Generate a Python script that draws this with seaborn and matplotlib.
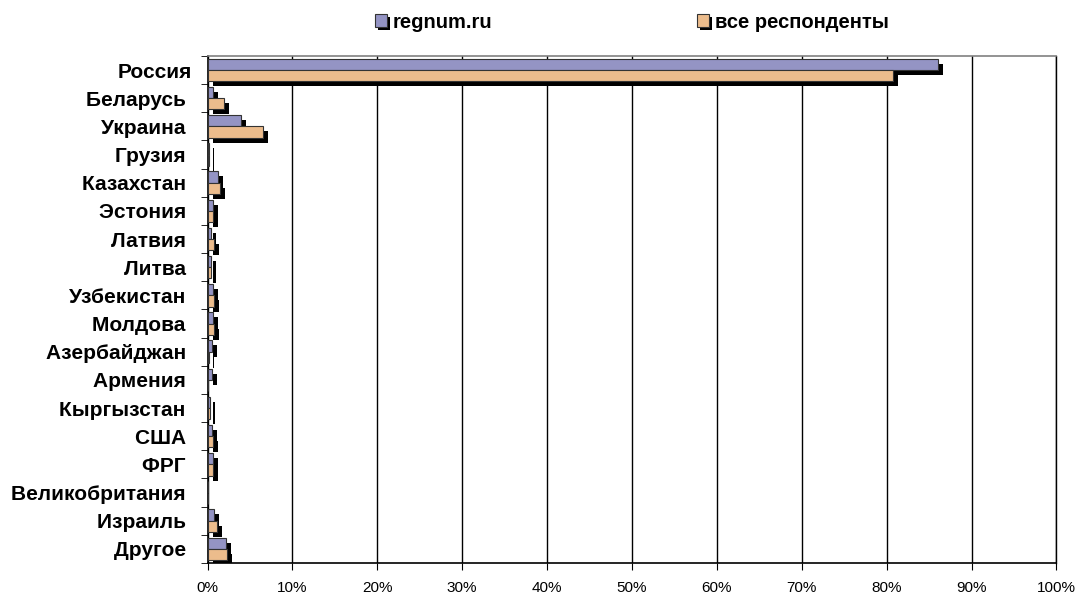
import matplotlib
matplotlib.use("Agg")
import matplotlib.pyplot as plt
import matplotlib.patheffects as pe
from matplotlib.ticker import FixedLocator, PercentFormatter
import seaborn as sns
import pandas as pd
import numpy as np

categories = ["Россия", "Беларусь", "Украина", "Грузия", "Казахстан", "Эстония",
              "Латвия", "Литва", "Узбекистан", "Молдова", "Азербайджан", "Армения",
              "Кыргызстан", "США", "ФРГ", "Великобритания", "Израиль", "Другое"]
regnum = [86.0, 0.7, 3.9, 0.2, 1.2, 0.7, 0.4, 0.4, 0.6, 0.6, 0.5, 0.5,
          0.3, 0.5, 0.6, 0.0, 0.75, 2.2]
all_resp = [80.8, 2.0, 6.5, 0.2, 1.5, 0.6, 0.75, 0.4, 0.75, 0.75, 0.2, 0.0,
            0.3, 0.6, 0.6, 0.0, 1.1, 2.3]
series_names = ["regnum.ru", "все респонденты"]
x_ticks = [0, 10, 20, 30, 40, 50, 60, 70, 80, 90, 100]

df = pd.DataFrame({
    "country": categories * 2,
    "value": regnum + all_resp,
    "series": [series_names[0]] * len(categories) + [series_names[1]] * len(categories),
})

sns.set_style("white")
plt.rcParams["font.family"] = ["Liberation Sans", "DejaVu Sans"]
plt.rcParams["text.color"] = "black"

fig = plt.figure(figsize=(10.78, 5.95), dpi=100)
ax = fig.add_axes([0.1925, 0.0538, 0.7875, 0.8522])

palette = {series_names[0]: "#9494c4", series_names[1]: "#ecbc8c"}
sns.barplot(data=df, y="country", x="value", hue="series", orient="h",
            palette=palette, order=categories, hue_order=series_names,
            width=0.8, edgecolor="#333333", linewidth=0.8, saturation=1,
            ax=ax, zorder=3)

shadow = [pe.SimplePatchShadow(offset=(3.6, -3.6), shadow_rgbFace="black", alpha=1.0), pe.Normal()]
for p in ax.patches:
    p.set_path_effects(shadow)

ax.set_xlim(0, 100)
ax.set_ylim(len(categories) - 0.5, -0.5)
ax.xaxis.set_major_locator(FixedLocator(x_ticks))
ax.xaxis.set_major_formatter(PercentFormatter(decimals=0))
ax.grid(axis="x", color="black", linewidth=1, zorder=0)
ax.grid(axis="y", visible=False)
ax.set_axisbelow(True)
ax.set_xlabel("")
ax.set_ylabel("")

ax.spines["top"].set_visible(True)
ax.spines["top"].set_color("#808080")
ax.spines["top"].set_linewidth(1.2)
ax.spines["right"].set_visible(True)
ax.spines["right"].set_color("black")
ax.spines["right"].set_linewidth(1.0)
for s in ["left", "bottom"]:
    ax.spines[s].set_visible(True)
    ax.spines[s].set_color("black")
    ax.spines[s].set_linewidth(1.2)

ax.tick_params(axis="x", which="major", length=5, color="black", direction="out",
               labelsize=11, labelcolor="black", bottom=True, pad=8)
ax.tick_params(axis="y", which="major", length=0, labelsize=15, labelcolor="black", pad=11.5)
ax.yaxis.set_minor_locator(FixedLocator(np.arange(-0.5, len(categories) + 0.5, 1)))
ax.tick_params(axis="y", which="minor", length=5, color="black", direction="out", left=True)
ax.set_yticks(range(len(categories)))
ax.set_yticklabels([c if i == 0 else c + " " for i, c in enumerate(categories)],
                   fontweight="bold")

handles, labels = ax.get_legend_handles_labels()
ax.get_legend().remove()
anchors = [375 / 1078, 697 / 1078]
for h, l, xa in zip(handles, labels, anchors):
    lg = fig.legend([h], [l], loc="center left", bbox_to_anchor=(xa, 1 - 22 / 595),
                    frameon=False, borderpad=0, borderaxespad=0, handlelength=0.6,
                    handleheight=0.6, handletextpad=0.3,
                    prop={"weight": "bold", "size": 14.5})
    for lh in lg.legend_handles:
        lh.set_path_effects([pe.SimplePatchShadow(offset=(2, -2), shadow_rgbFace="black", alpha=1.0),
                             pe.Normal()])

fig.savefig("out.png", dpi=100)
